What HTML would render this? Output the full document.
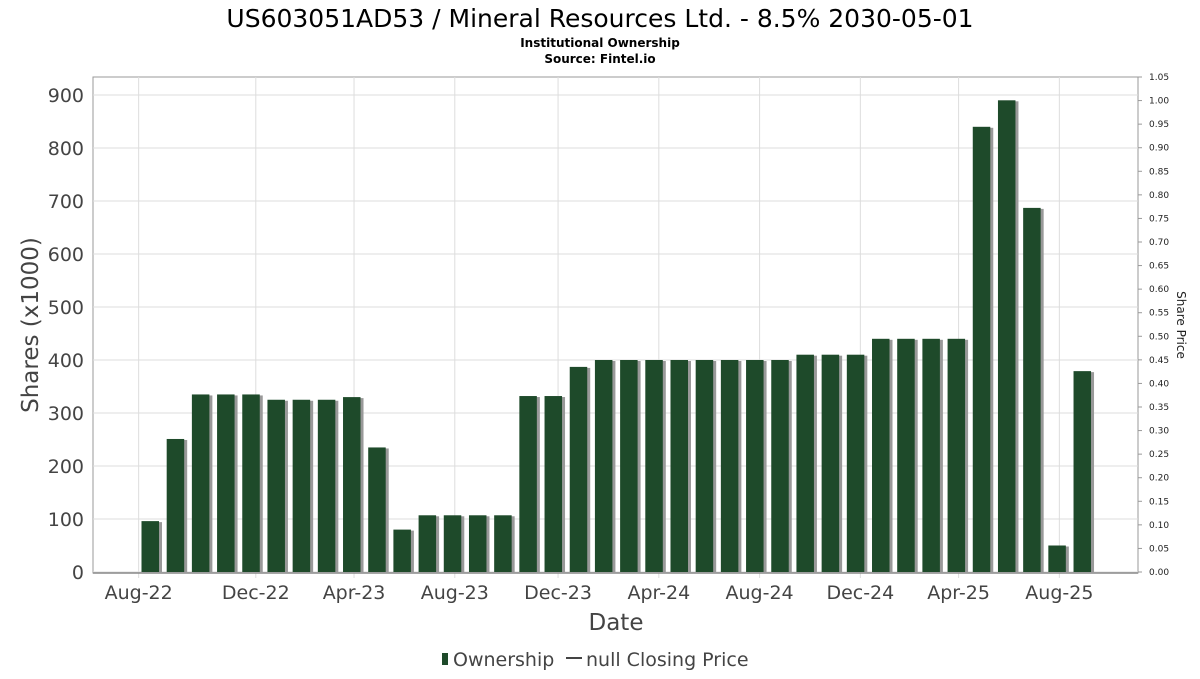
<!DOCTYPE html>
<html><head><meta charset="utf-8"><style>
body{margin:0;background:#fff;font-family:"DejaVu Sans","Liberation Sans",sans-serif}
</style></head><body>
<svg width="1200" height="675" xmlns="http://www.w3.org/2000/svg" font-family="DejaVu Sans, Liberation Sans, sans-serif">
<text x="600" y="27" font-size="25" text-anchor="middle" fill="#000">US603051AD53 / Mineral Resources Ltd. - 8.5% 2030-05-01</text>
<text x="600" y="47" font-size="12" font-weight="bold" text-anchor="middle">Institutional Ownership</text>
<text x="600" y="63" font-size="12" font-weight="bold" text-anchor="middle">Source: Fintel.io</text>
<rect x="93" y="77" width="1045" height="496" fill="#fff" stroke="#999"/>
<g id="grid"></g><g id="bars"></g><g id="axes"></g>
<text transform="translate(38,325) rotate(-90)" font-size="23" fill="#444" text-anchor="middle">Shares (x1000)</text>
<text x="616" y="630" font-size="23" fill="#444" text-anchor="middle">Date</text>
<text transform="translate(1177,325) rotate(90)" font-size="12" fill="#222" text-anchor="middle">Share Price</text>
<g>
<rect x="442" y="653" width="6" height="12" fill="#1e4a2a"/>
<text x="453" y="666" font-size="19" fill="#444">Ownership</text>
<line x1="566" y1="658" x2="582" y2="658" stroke="#444" stroke-width="2"/>
<text x="586" y="666" font-size="19" fill="#444">null Closing Price</text>
</g>
</svg>
<script>
const values=[96,251,335,335,335,325,325,325,330,235,80,107,107,107,107,332,332,387,400,400,400,400,400,400,400,400,410,410,410,440,440,440,440,840,890,687,50,379];
const yTicks=[0,100,200,300,400,500,600,700,800,900];
const xLabels=["Aug-22","Dec-22","Apr-23","Aug-23","Dec-23","Apr-24","Aug-24","Dec-24","Apr-25","Aug-25"];
const xLabelIdx=[-0.45,4.2,8.1,12.1,16.2,20.2,24.2,28.2,32.1,36.1];
const rightTicks=[0,0.05,0.1,0.15,0.2,0.25,0.3,0.35,0.4,0.45,0.5,0.55,0.6,0.65,0.7,0.75,0.8,0.85,0.9,0.95,1.0,1.05];
const NS="http://www.w3.org/2000/svg";
const y=v=>572-v*0.53;
const yr=v=>572-v*(495/1.05);
const x=i=>150+i*25.19;
function mk(t,a,p){const e=document.createElementNS(NS,t);for(const k in a)e.setAttribute(k,a[k]);p.appendChild(e);return e;}
const grid=document.getElementById('grid'),bars=document.getElementById('bars'),axes=document.getElementById('axes');
yTicks.forEach(v=>{
 const l=mk('line',{x1:93,x2:1138,y1:y(v),y2:y(v),stroke:'#ddd'},grid);
 
 
 const t=mk('text',{x:84,y:y(v)+7,'font-size':19,fill:'#444','text-anchor':'end'},axes);
 t.textContent=v;
 
 
});
xLabels.forEach((s,k)=>{
 const xx=x(xLabelIdx[k]);
 const l=mk('line',{x1:xx,x2:xx,y1:77,y2:578,stroke:'#ddd'},grid);
 
 
 const t=mk('text',{x:xx,y:599,'font-size':19,fill:'#444','text-anchor':'middle'},axes);
 t.textContent=s;
 
 
});
rightTicks.forEach(v=>{
 const t=mk('text',{x:1149,y:yr(v)+3,'font-size':9,fill:'#222'},axes);
 t.textContent=v.toFixed(2);
 
 
 mk('line',{x1:1138,x2:1142,y1:yr(v),y2:yr(v),stroke:'#999'},axes);
});
mk('line',{x1:93,x2:1138,y1:573,y2:573,stroke:'#888','stroke-width':1.5},axes);
values.forEach((v,i)=>{
 const sh=mk('rect',{x:x(i)-8.5+3,y:y(v)+1,width:17.5,height:572-y(v)-1,fill:'#999'},bars);
 
 
 const b=mk('rect',{x:x(i)-8.5,y:y(v),width:17.5,height:572-y(v),fill:'#1e4a2a'},bars);
 
 
});
</script>
</body></html>
